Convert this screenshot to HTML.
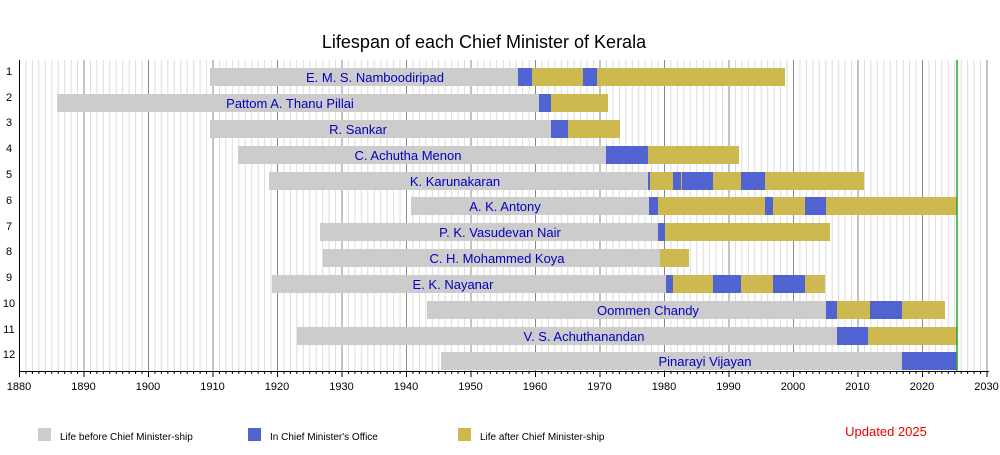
<!DOCTYPE html>
<html><head><meta charset="utf-8"><style>
html,body{margin:0;padding:0;background:#fff;}
svg text{font-family:"Liberation Sans",sans-serif;}
</style></head><body>
<svg width="1000" height="450" viewBox="0 0 1000 450" xmlns="http://www.w3.org/2000/svg">
<defs>
<pattern id="minor" x="19" y="0" width="6.45" height="10" patternUnits="userSpaceOnUse">
<line x1="0.5" y1="0" x2="0.5" y2="10" stroke="#dcdcdc" stroke-width="1"/>
</pattern>
<pattern id="major" x="19" y="0" width="64.5" height="10" patternUnits="userSpaceOnUse">
<line x1="0.5" y1="0" x2="0.5" y2="10" stroke="#888" stroke-width="1"/>
</pattern>
<pattern id="mt" x="19" y="0" width="6.45" height="10" patternUnits="userSpaceOnUse">
<line x1="0.5" y1="0" x2="0.5" y2="10" stroke="#000" stroke-width="1"/>
</pattern>
<pattern id="Mt" x="19" y="0" width="64.5" height="10" patternUnits="userSpaceOnUse">
<line x1="0.5" y1="0" x2="0.5" y2="10" stroke="#000" stroke-width="1"/>
</pattern>
</defs>
<text x="484" y="48" font-size="18" text-anchor="middle" fill="#000">Lifespan of each Chief Minister of Kerala</text>
<rect x="19" y="60" width="970" height="311" fill="url(#minor)"/>
<rect x="19" y="60" width="970" height="311" fill="url(#major)"/>
<g id="bars">
<rect x="210" y="68" width="308" height="18" fill="#cccccc"/>
<rect x="518" y="68" width="14" height="18" fill="#5163d0"/>
<rect x="532" y="68" width="51" height="18" fill="#cdb94f"/>
<rect x="583" y="68" width="14" height="18" fill="#5163d0"/>
<rect x="597" y="68" width="188" height="18" fill="#cdb94f"/>
<rect x="57" y="94" width="482" height="18" fill="#cccccc"/>
<rect x="539" y="94" width="12" height="18" fill="#5163d0"/>
<rect x="551" y="94" width="57" height="18" fill="#cdb94f"/>
<rect x="210" y="120" width="341" height="18" fill="#cccccc"/>
<rect x="551" y="120" width="17" height="18" fill="#5163d0"/>
<rect x="568" y="120" width="52" height="18" fill="#cdb94f"/>
<rect x="238" y="146" width="368" height="18" fill="#cccccc"/>
<rect x="606" y="146" width="42" height="18" fill="#5163d0"/>
<rect x="648" y="146" width="91" height="18" fill="#cdb94f"/>
<rect x="269" y="172" width="379" height="18" fill="#cccccc"/>
<rect x="648" y="172" width="2" height="18" fill="#5163d0"/>
<rect x="650" y="172" width="23" height="18" fill="#cdb94f"/>
<rect x="673" y="172" width="8" height="18" fill="#5163d0"/>
<rect x="681" y="172" width="1" height="18" fill="#cdb94f"/>
<rect x="682" y="172" width="31" height="18" fill="#5163d0"/>
<rect x="713" y="172" width="28" height="18" fill="#cdb94f"/>
<rect x="741" y="172" width="24" height="18" fill="#5163d0"/>
<rect x="765" y="172" width="99" height="18" fill="#cdb94f"/>
<rect x="411" y="197" width="238" height="18" fill="#cccccc"/>
<rect x="649" y="197" width="9" height="18" fill="#5163d0"/>
<rect x="658" y="197" width="107" height="18" fill="#cdb94f"/>
<rect x="765" y="197" width="8" height="18" fill="#5163d0"/>
<rect x="773" y="197" width="32" height="18" fill="#cdb94f"/>
<rect x="805" y="197" width="21" height="18" fill="#5163d0"/>
<rect x="826" y="197" width="131" height="18" fill="#cdb94f"/>
<rect x="320" y="223" width="338" height="18" fill="#cccccc"/>
<rect x="658" y="223" width="7" height="18" fill="#5163d0"/>
<rect x="665" y="223" width="165" height="18" fill="#cdb94f"/>
<rect x="323" y="249" width="337" height="18" fill="#cccccc"/>
<rect x="660" y="249" width="29" height="18" fill="#cdb94f"/>
<rect x="272" y="275" width="394" height="18" fill="#cccccc"/>
<rect x="666" y="275" width="7" height="18" fill="#5163d0"/>
<rect x="673" y="275" width="40" height="18" fill="#cdb94f"/>
<rect x="713" y="275" width="28" height="18" fill="#5163d0"/>
<rect x="741" y="275" width="32" height="18" fill="#cdb94f"/>
<rect x="773" y="275" width="32" height="18" fill="#5163d0"/>
<rect x="805" y="275" width="20" height="18" fill="#cdb94f"/>
<rect x="427" y="301" width="399" height="18" fill="#cccccc"/>
<rect x="826" y="301" width="11" height="18" fill="#5163d0"/>
<rect x="837" y="301" width="33" height="18" fill="#cdb94f"/>
<rect x="870" y="301" width="32" height="18" fill="#5163d0"/>
<rect x="902" y="301" width="43" height="18" fill="#cdb94f"/>
<rect x="297" y="327" width="540" height="18" fill="#cccccc"/>
<rect x="837" y="327" width="31" height="18" fill="#5163d0"/>
<rect x="868" y="327" width="89" height="18" fill="#cdb94f"/>
<rect x="441" y="352" width="461" height="18" fill="#cccccc"/>
<rect x="902" y="352" width="55" height="18" fill="#5163d0"/>
</g>
<line x1="957" y1="60" x2="957" y2="371" stroke="#22aa22" stroke-width="1.5"/>
<g font-size="13" fill="#0000c0" text-anchor="middle">
<text x="375" y="82">E. M. S. Namboodiripad</text>
<text x="290" y="108">Pattom A. Thanu Pillai</text>
<text x="358" y="134">R. Sankar</text>
<text x="408" y="160">C. Achutha Menon</text>
<text x="455" y="186">K. Karunakaran</text>
<text x="505" y="211">A. K. Antony</text>
<text x="500" y="237">P. K. Vasudevan Nair</text>
<text x="497" y="263">C. H. Mohammed Koya</text>
<text x="453" y="289">E. K. Nayanar</text>
<text x="648" y="315">Oommen Chandy</text>
<text x="584" y="341">V. S. Achuthanandan</text>
<text x="705" y="366">Pinarayi Vijayan</text>
</g>
<g font-size="11" fill="#000" text-anchor="middle">
<text x="9" y="75">1</text><text x="9" y="101">2</text><text x="9" y="126">3</text>
<text x="9" y="152">4</text><text x="9" y="178">5</text><text x="9" y="204">6</text>
<text x="9" y="230">7</text><text x="9" y="255">8</text><text x="9" y="281">9</text>
<text x="9" y="307">10</text><text x="9" y="333">11</text><text x="9" y="358">12</text>
</g>
<line x1="19.5" y1="60" x2="19.5" y2="371" stroke="#000" stroke-width="1"/>
<line x1="19" y1="371.5" x2="989" y2="371.5" stroke="#000" stroke-width="1"/>
<rect x="19" y="371" width="971" height="3" fill="url(#mt)"/>
<rect x="19" y="371" width="971" height="6" fill="url(#Mt)"/>
<g font-size="11" fill="#000" text-anchor="middle">
<text x="19" y="390">1880</text><text x="83.5" y="390">1890</text><text x="148" y="390">1900</text>
<text x="212.5" y="390">1910</text><text x="277" y="390">1920</text><text x="341.5" y="390">1930</text>
<text x="406" y="390">1940</text><text x="470.5" y="390">1950</text><text x="535" y="390">1960</text>
<text x="599.5" y="390">1970</text><text x="664" y="390">1980</text><text x="728.5" y="390">1990</text>
<text x="793" y="390">2000</text><text x="857.5" y="390">2010</text><text x="922" y="390">2020</text>
<text x="986.5" y="390">2030</text>
</g>
<rect x="38" y="428" width="13" height="13" fill="#cccccc"/>
<text x="60" y="440" font-size="10" fill="#000">Life before Chief Minister-ship</text>
<rect x="248" y="428" width="13" height="13" fill="#5163d0"/>
<text x="270" y="440" font-size="10" fill="#000">In Chief Minister's Office</text>
<rect x="458" y="428" width="13" height="13" fill="#cdb94f"/>
<text x="480" y="440" font-size="10" fill="#000">Life after Chief Minister-ship</text>
<text x="886" y="436" font-size="13" fill="#ee0000" text-anchor="middle">Updated 2025</text>
</svg>
</body></html>
